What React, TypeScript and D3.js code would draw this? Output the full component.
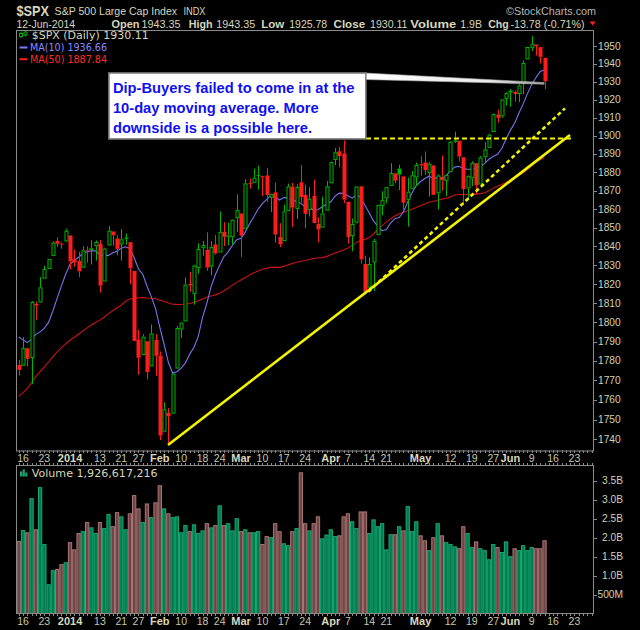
import React, { useEffect, useRef } from 'react'
import * as d3 from 'd3'

// trading days shown, 13-Dec-2013 .. 12-Jun-2014
const days = [
  '2013-12-13', '2013-12-16', '2013-12-17', '2013-12-18', '2013-12-19', '2013-12-20', '2013-12-23', '2013-12-24', '2013-12-26', '2013-12-27', '2013-12-30', '2013-12-31',
  '2014-01-02', '2014-01-03', '2014-01-06', '2014-01-07', '2014-01-08', '2014-01-09', '2014-01-10', '2014-01-13', '2014-01-14', '2014-01-15', '2014-01-16', '2014-01-17', '2014-01-21', '2014-01-22', '2014-01-23', '2014-01-24', '2014-01-27', '2014-01-28', '2014-01-29', '2014-01-30', '2014-01-31',
  '2014-02-03', '2014-02-04', '2014-02-05', '2014-02-06', '2014-02-07', '2014-02-10', '2014-02-11', '2014-02-12', '2014-02-13', '2014-02-14', '2014-02-18', '2014-02-19', '2014-02-20', '2014-02-21', '2014-02-24', '2014-02-25', '2014-02-26', '2014-02-27', '2014-02-28',
  '2014-03-03', '2014-03-04', '2014-03-05', '2014-03-06', '2014-03-07', '2014-03-10', '2014-03-11', '2014-03-12', '2014-03-13', '2014-03-14', '2014-03-17', '2014-03-18', '2014-03-19', '2014-03-20', '2014-03-21', '2014-03-24', '2014-03-25', '2014-03-26', '2014-03-27', '2014-03-28', '2014-03-31',
  '2014-04-01', '2014-04-02', '2014-04-03', '2014-04-04', '2014-04-07', '2014-04-08', '2014-04-09', '2014-04-10', '2014-04-11', '2014-04-14', '2014-04-15', '2014-04-16', '2014-04-17', '2014-04-21', '2014-04-22', '2014-04-23', '2014-04-24', '2014-04-25', '2014-04-28', '2014-04-29', '2014-04-30',
  '2014-05-01', '2014-05-02', '2014-05-05', '2014-05-06', '2014-05-07', '2014-05-08', '2014-05-09', '2014-05-12', '2014-05-13', '2014-05-14', '2014-05-15', '2014-05-16', '2014-05-19', '2014-05-20', '2014-05-21', '2014-05-22', '2014-05-23', '2014-05-27', '2014-05-28', '2014-05-29', '2014-05-30',
  '2014-06-02', '2014-06-03', '2014-06-04', '2014-06-05', '2014-06-06', '2014-06-09', '2014-06-10', '2014-06-11', '2014-06-12'
]
// empty space on the right of the chart
const futureDays = ['2014-06-13', '2014-06-16', '2014-06-17', '2014-06-18', '2014-06-19', '2014-06-20', '2014-06-23', '2014-06-24', '2014-06-25', '2014-06-26', '2014-06-27']

const opens = [
  1777.98, 1777.48, 1786.54, 1781.46, 1809.00, 1810.39, 1822.92, 1828.02, 1834.96, 1842.97, 1841.47, 1842.61,
  1845.86, 1833.21, 1832.31, 1828.71, 1837.90, 1839.00, 1840.06, 1841.26, 1821.36, 1840.52, 1847.99, 1844.23, 1841.05, 1844.71, 1842.29, 1826.96, 1791.03, 1783.00, 1790.15, 1777.17, 1790.88,
  1782.68, 1743.82, 1753.38, 1752.99, 1776.01, 1796.20, 1800.45, 1820.12, 1814.82, 1828.46, 1839.03, 1838.22, 1829.24, 1841.07, 1836.78, 1847.66, 1845.79, 1844.90, 1855.12,
  1857.68, 1849.23, 1874.05, 1874.18, 1878.52, 1877.86, 1878.26, 1866.15, 1869.06, 1845.07, 1842.81, 1858.92, 1872.25, 1860.09, 1874.53, 1867.67, 1859.48, 1867.09, 1852.11, 1850.07, 1859.16,
  1873.96, 1886.61, 1891.43, 1890.25, 1863.92, 1845.48, 1852.64, 1872.28, 1830.65, 1818.18, 1831.45, 1846.01, 1861.73, 1865.79, 1872.57, 1879.32, 1881.97, 1877.72, 1865.00, 1870.78, 1877.10,
  1884.39, 1885.30, 1879.45, 1883.69, 1868.53, 1877.39, 1875.27, 1880.03, 1896.75, 1897.13, 1888.16, 1871.19, 1876.66, 1884.88, 1873.34, 1888.19, 1893.32, 1902.01, 1911.77, 1910.60, 1920.33,
  1923.87, 1923.07, 1923.06, 1928.52, 1942.41, 1948.97, 1950.34, 1949.37, 1943.35
]
const highs = [
  1780.59, 1792.22, 1786.77, 1811.08, 1810.88, 1823.75, 1829.75, 1833.32, 1842.84, 1844.89, 1842.47, 1849.44,
  1845.86, 1838.24, 1837.16, 1840.10, 1840.02, 1843.23, 1843.15, 1843.45, 1839.26, 1850.84, 1847.99, 1846.04, 1849.31, 1846.87, 1842.29, 1826.96, 1795.98, 1793.87, 1790.15, 1798.77, 1793.88,
  1784.83, 1758.73, 1755.79, 1774.06, 1798.03, 1799.94, 1823.54, 1826.55, 1830.25, 1841.65, 1842.87, 1847.50, 1842.79, 1846.13, 1858.71, 1852.91, 1852.65, 1854.53, 1867.92,
  1857.68, 1876.23, 1876.53, 1881.94, 1883.57, 1877.87, 1882.35, 1868.38, 1874.40, 1852.44, 1862.30, 1873.76, 1874.14, 1873.49, 1883.97, 1873.34, 1871.87, 1875.92, 1855.55, 1866.63, 1875.18,
  1885.84, 1893.17, 1893.80, 1897.28, 1864.04, 1854.95, 1872.43, 1872.53, 1835.07, 1834.19, 1844.02, 1862.31, 1869.63, 1871.89, 1884.89, 1879.75, 1884.06, 1877.72, 1877.01, 1880.60, 1885.20,
  1888.59, 1891.33, 1885.51, 1883.69, 1878.83, 1889.07, 1878.57, 1897.13, 1902.17, 1897.13, 1888.16, 1878.28, 1886.00, 1884.88, 1888.80, 1896.33, 1901.26, 1912.28, 1914.46, 1920.03, 1924.03,
  1925.88, 1925.07, 1928.63, 1941.74, 1949.44, 1955.55, 1950.86, 1949.37, 1943.35
]
const lows = [
  1772.45, 1777.48, 1777.05, 1767.99, 1801.35, 1810.25, 1822.92, 1828.02, 1834.96, 1839.81, 1838.77, 1842.41,
  1827.74, 1829.13, 1823.73, 1828.71, 1831.40, 1830.38, 1832.43, 1815.52, 1821.36, 1840.52, 1840.30, 1835.23, 1832.38, 1840.88, 1820.06, 1790.29, 1772.88, 1783.00, 1770.45, 1777.17, 1772.26,
  1739.66, 1743.82, 1737.92, 1752.99, 1776.01, 1791.83, 1800.41, 1815.97, 1809.22, 1825.59, 1835.01, 1826.99, 1824.58, 1835.60, 1836.78, 1840.19, 1840.66, 1841.13, 1847.67,
  1834.44, 1849.23, 1871.11, 1874.18, 1870.56, 1867.04, 1863.88, 1858.39, 1841.86, 1839.57, 1842.81, 1858.92, 1850.35, 1854.63, 1863.46, 1849.69, 1855.96, 1852.56, 1842.11, 1850.07, 1859.16,
  1873.96, 1883.79, 1882.65, 1863.26, 1841.48, 1837.49, 1852.38, 1830.87, 1814.36, 1815.80, 1816.29, 1846.01, 1856.72, 1863.18, 1872.57, 1873.91, 1870.24, 1859.70, 1850.61, 1870.78, 1872.69,
  1878.04, 1878.50, 1866.77, 1867.72, 1859.79, 1870.05, 1867.02, 1880.03, 1896.06, 1885.77, 1862.36, 1864.82, 1872.42, 1868.14, 1873.34, 1885.39, 1893.32, 1902.01, 1907.30, 1909.82, 1916.64,
  1915.98, 1918.79, 1918.60, 1922.93, 1942.41, 1947.16, 1944.64, 1940.08, 1925.78
]
const closes = [
  1775.32, 1786.54, 1781.00, 1810.65, 1809.60, 1818.32, 1827.99, 1833.32, 1842.02, 1841.40, 1841.07, 1848.36,
  1831.98, 1831.37, 1826.77, 1837.88, 1837.49, 1838.13, 1842.37, 1819.20, 1838.88, 1848.38, 1845.89, 1838.70, 1843.80, 1844.86, 1828.46, 1790.29, 1781.56, 1792.50, 1774.20, 1794.19, 1782.59,
  1741.89, 1755.20, 1751.64, 1773.43, 1797.02, 1799.84, 1819.75, 1819.26, 1829.83, 1838.63, 1840.76, 1828.75, 1839.78, 1836.25, 1847.61, 1845.12, 1845.16, 1854.29, 1859.45,
  1845.73, 1873.91, 1873.81, 1877.03, 1878.04, 1877.17, 1867.63, 1868.20, 1846.34, 1841.13, 1858.83, 1872.25, 1860.77, 1872.01, 1866.52, 1857.44, 1865.62, 1852.56, 1849.04, 1857.62, 1872.34,
  1885.52, 1890.90, 1888.77, 1865.09, 1845.04, 1851.96, 1872.18, 1833.08, 1815.69, 1830.61, 1842.98, 1862.31, 1864.85, 1871.89, 1879.55, 1875.39, 1878.61, 1863.40, 1869.43, 1878.33, 1883.95,
  1883.68, 1881.14, 1884.66, 1867.72, 1878.21, 1875.63, 1878.48, 1896.65, 1897.45, 1888.53, 1870.85, 1877.86, 1885.08, 1872.83, 1888.03, 1892.49, 1900.53, 1911.91, 1909.78, 1920.03, 1923.57,
  1924.97, 1924.24, 1927.88, 1940.46, 1949.44, 1951.27, 1950.79, 1943.89, 1930.11
]
// volume, billions of shares
const volumes = [
  1.91, 2.20, 2.14, 3.04, 2.22, 3.33, 1.83, 0.77, 1.14, 1.17, 1.30, 1.35,
  1.88, 1.69, 2.12, 2.17, 2.41, 2.27, 2.12, 2.41, 2.25, 2.62, 2.30, 2.67, 2.56, 2.22, 2.64, 3.12, 2.77, 2.41, 2.90, 2.54, 2.93,
  3.38, 2.77, 2.64, 2.54, 2.56, 2.14, 2.33, 2.17, 2.35, 2.12, 2.19, 2.38, 2.27, 2.33, 2.85, 2.33, 2.38, 2.19, 2.51,
  2.17, 2.22, 2.14, 2.14, 2.17, 1.83, 2.04, 2.01, 2.38, 2.17, 1.85, 1.80, 2.17, 2.25, 3.72, 2.38, 2.19, 2.38, 2.56, 1.98, 2.08,
  2.22, 2.04, 2.06, 2.56, 2.64, 2.43, 2.25, 2.69, 2.69, 2.12, 2.48, 2.30, 2.38, 1.69, 2.09, 2.09, 2.30, 2.19, 2.83, 2.17, 2.43,
  2.06, 1.93, 1.67, 2.01, 2.38, 2.06, 1.88, 1.83, 1.77, 1.72, 2.30, 2.12, 1.75, 1.90, 1.72, 1.67, 1.43, 1.83, 1.75, 1.62, 1.90,
  1.51, 1.72, 1.67, 1.80, 1.67, 1.75, 1.72, 1.72, 1.93
]
// closes 4-Oct-2013 .. 12-Dec-2013, needed to start the moving averages
const priorCloses = [
  1690.50, 1676.12, 1655.45, 1656.40, 1692.56, 1703.20, 1710.14, 1698.06, 1721.54, 1733.15, 1744.50, 1744.66, 1754.67, 1746.38, 1752.07, 1759.77, 1762.11, 1771.95, 1763.31, 1756.54,
  1761.64, 1767.93, 1762.97, 1770.49, 1747.15, 1770.61, 1771.89, 1767.69, 1782.00, 1790.62, 1798.18, 1791.53, 1787.87, 1781.37, 1795.85, 1804.76, 1802.48, 1802.75, 1807.23, 1805.81,
  1800.90, 1795.15, 1792.81, 1785.03, 1805.09, 1808.37, 1802.62, 1782.22, 1775.50
]

const priceTicks = [1740, 1750, 1760, 1770, 1780, 1790, 1800, 1810, 1820, 1830, 1840, 1850, 1860, 1870, 1880, 1890, 1900, 1910, 1920, 1930, 1940, 1950]
const volumeTicks = [0.5, 1, 1.5, 2, 2.5, 3, 3.5]
const volumeTickLabels = ['500M', '1.0B', '1.5B', '2.0B', '2.5B', '3.0B', '3.5B']
const dateTicks = ['2013-12-16', '2013-12-23', '2014-01-02', '2014-01-13', '2014-01-21', '2014-01-27', '2014-02-03', '2014-02-10', '2014-02-18', '2014-02-24', '2014-03-03', '2014-03-10', '2014-03-17', '2014-03-24', '2014-04-01', '2014-04-07', '2014-04-14', '2014-04-21', '2014-05-01', '2014-05-12', '2014-05-19', '2014-05-27', '2014-06-02', '2014-06-09', '2014-06-16', '2014-06-23']
const dateTickLabels = ['16', '23', '2014', '13', '21', '27', 'Feb', '10', '18', '24', 'Mar', '10', '17', '24', 'Apr', '7', '14', '21', 'May', '12', '19', '27', 'Jun', '9', '16', '23']
const boldTickLabels = ['2014', 'Feb', 'Mar', 'Apr', 'May', 'Jun']

// drawn annotations, in (trading day index, price)
const trendSolid = [[34.92, 1737.1], [128.95, 1900.4]]
const trendDashed = [[81.77, 1816.0], [127.78, 1915.1]]
const resistance = [[81.23, 1898.5], [129.4, 1898.5]]
const calloutBox = [[21.1, 1934.8], [81.2, 1898.2]]
const calloutTip = [122.9, 1929.0]
const calloutText = ['Dip-Buyers failed to come in at the', '10-day moving average. More', 'downside is a possible here.']

// header line: text, x, width, bold
const header = [
  ['12-Jun-2014', 16.4, 58.7, false],
  ['Open', 111.6, 27.9, true], ['1943.35', 141.5, 39, false],
  ['High', 188.7, 23.8, true], ['1943.35', 216.2, 39, false],
  ['Low', 261.3, 23, true], ['1925.78', 289.2, 38, false],
  ['Close', 333.5, 31.6, true], ['1930.11', 370, 37.5, false],
  ['Volume', 410.3, 45.9, true], ['1.9B', 460.3, 21.7, false],
  ['Chg', 488.2, 20.5, true], ['-13.78 (-0.71%)', 510.4, 74.2, false]
]

const GREEN = '#00b400'
const RED = '#ff1c1c'
const KHAKI = '#d6d6ba'
const FONT = 'Liberation Sans, Arial, sans-serif'
const LFONT = 'DejaVu Sans, Verdana, sans-serif'

export default function App() {
  const ref = useRef<SVGSVGElement>(null)

  useEffect(() => {
    const svg = d3.select(ref.current)
    svg.selectAll('*').remove()

    const allDays = days.concat(futureDays)
    const L = 16, R = 594
    const pTop = 30, pBot = 450.5, vTop = 465.5, vBot = 613.5

    const x = d3.scaleLinear().domain([-0.64, allDays.length - 0.43]).range([L, R])
    const y = d3.scaleLog().domain([1734.36, 1959.06]).range([pBot, pTop])
    const yv = d3.scaleLinear().domain([0, 3.9]).range([vBot, vTop])

    svg.append('rect').attr('width', 640).attr('height', 630).attr('fill', '#000')

    const defs = svg.append('defs')
    defs.append('clipPath').attr('id', 'clipP')
      .append('rect').attr('x', L).attr('y', pTop).attr('width', R - L).attr('height', pBot - pTop)
    const grad = defs.append('linearGradient').attr('id', 'wedge').attr('x1', 0).attr('x2', 1).attr('y1', 0).attr('y2', 0)
    grad.append('stop').attr('offset', '0%').attr('stop-color', '#ffffff')
    grad.append('stop').attr('offset', '70%').attr('stop-color', '#e8e8e8')
    grad.append('stop').attr('offset', '100%').attr('stop-color', '#9a9a9a')

    // 移动平均线
    const all = priorCloses.concat(closes)
    const off = priorCloses.length
    const ma = (n: number) => closes.map((_, i) => d3.mean(all.slice(i + off - n + 1, i + off + 1)) as number)
    const ma10 = ma(10)
    const ma50 = ma(50)
    const line = d3.line<number>().x((d, i) => x(i)).y(d => y(d))

    const plot = svg.append('g').attr('clip-path', 'url(#clipP)')
    plot.append('path').attr('d', line(ma50)).attr('fill', 'none').attr('stroke', '#c81414').attr('stroke-width', 1.1)
    plot.append('path').attr('d', line(ma10)).attr('fill', 'none').attr('stroke', '#7474ee').attr('stroke-width', 1.1)

    // K线
    days.forEach((d, i) => {
      const o = opens[i], c = closes[i], h = highs[i], l = lows[i]
      const prev = i === 0 ? priorCloses[priorCloses.length - 1] : closes[i - 1]
      const col = c >= prev ? GREEN : RED
      const cx = Math.round(x(i)) + 0.5
      const top = y(Math.max(o, c)), bot = y(Math.min(o, c))
      const hb = Math.max(1, bot - top)
      plot.append('line').attr('x1', cx).attr('x2', cx).attr('y1', y(h)).attr('y2', top).attr('stroke', col)
      plot.append('line').attr('x1', cx).attr('x2', cx).attr('y1', top + hb).attr('y2', y(l)).attr('stroke', col)
      if (c < o) {
        plot.append('rect').attr('x', cx - 2).attr('y', top).attr('width', 4).attr('height', hb).attr('fill', col)
      } else {
        plot.append('rect').attr('x', cx - 1.5).attr('y', top + 0.5).attr('width', 3).attr('height', Math.max(0.5, hb - 1))
          .attr('fill', '#000').attr('stroke', col).attr('stroke-width', 1)
      }
    })

    // 成交量
    const up = (i: number) => closes[i] >= (i === 0 ? priorCloses[priorCloses.length - 1] : closes[i - 1])
    svg.append('g').selectAll('rect').data(volumes).enter().append('rect')
      .attr('x', (d, i) => x(i) - 1.65)
      .attr('y', d => yv(d) + 0.5)
      .attr('width', 3.3)
      .attr('height', d => vBot - yv(d) - 0.5)
      .attr('fill', (d, i) => (up(i) ? '#007c4e' : '#704545'))
      .attr('stroke', (d, i) => (up(i) ? '#17a874' : '#a87474'))
      .attr('stroke-width', 1)

    // 边框
    svg.append('rect').attr('x', L + 0.5).attr('y', pTop + 0.5).attr('width', R - L - 1).attr('height', pBot - pTop)
      .attr('fill', 'none').attr('stroke', '#8a8a8a')
    svg.append('rect').attr('x', L + 0.5).attr('y', vTop).attr('width', R - L - 1).attr('height', vBot - vTop)
      .attr('fill', 'none').attr('stroke', '#8a8a8a')

    // 日期刻度
    allDays.forEach((d, i) => {
      const cx = Math.round(x(i)) + 0.5
      ;[[pBot, pBot + 2.5], [vTop - 2.5, vTop], [vBot, vBot + 2.5]].forEach(([a, b]) => {
        svg.append('line').attr('x1', cx).attr('x2', cx).attr('y1', a).attr('y2', b).attr('stroke', '#8a8a8a')
      })
    })
    dateTicks.forEach((d, k) => {
      const i = allDays.indexOf(d)
      const bold = boldTickLabels.includes(dateTickLabels[k])
      ;[461.5, 625].forEach(by => {
        svg.append('text').attr('x', x(i)).attr('y', by).attr('text-anchor', 'middle')
          .attr('font-family', FONT).attr('font-size', bold ? 11 : 10.5).attr('font-weight', bold ? 'bold' : 'normal')
          .attr('fill', bold ? '#d8d8bc' : '#c8c8ac').text(dateTickLabels[k])
      })
    })

    // 价格轴
    priceTicks.forEach(p => {
      svg.append('line').attr('x1', R).attr('x2', R + 3).attr('y1', Math.round(y(p)) + 0.5).attr('y2', Math.round(y(p)) + 0.5).attr('stroke', '#8a8a8a')
      svg.append('text').attr('x', R + 4).attr('y', y(p) + 3.6).attr('font-family', FONT).attr('font-size', 10.2)
        .attr('fill', '#d0d0b6').text(p)
    })
    volumeTicks.forEach((v, k) => {
      svg.append('line').attr('x1', R).attr('x2', R + 3).attr('y1', Math.round(yv(v)) + 0.5).attr('y2', Math.round(yv(v)) + 0.5).attr('stroke', '#8a8a8a')
      svg.append('text').attr('x', 623).attr('y', yv(v) + 3.6).attr('text-anchor', 'end').attr('font-family', FONT).attr('font-size', 10.2)
        .attr('fill', '#d0d0b6').text(volumeTickLabels[k])
    })

    // 趋势线
    const pt = (a: number[]) => [x(a[0]), y(a[1])]
    const seg = (a: number[][], dash: string | null, w: number) => {
      const [p0, p1] = [pt(a[0]), pt(a[1])]
      const s = svg.append('line').attr('x1', p0[0]).attr('y1', p0[1]).attr('x2', p1[0]).attr('y2', p1[1])
        .attr('stroke', '#f4f400').attr('stroke-width', w)
      if (dash) s.attr('stroke-dasharray', dash)
    }
    seg(trendSolid, null, 2.6)
    seg(trendDashed, '4,3', 2.6)
    seg(resistance, '5,3', 2)

    // 标注框
    const [b0, b1] = [pt(calloutBox[0]), pt(calloutBox[1])]
    const tip = pt(calloutTip)
    svg.append('polygon')
      .attr('points', [[b1[0] - 1, b0[1]], [tip[0], tip[1] - 0.8], [tip[0], tip[1] + 0.8], [b1[0] - 1, b0[1] + 6.5]].map(p => p.join(',')).join(' '))
      .attr('fill', 'url(#wedge)').attr('stroke', '#b0b0b0').attr('stroke-width', 0.6)
    svg.append('rect').attr('x', b0[0]).attr('y', b0[1]).attr('width', b1[0] - b0[0]).attr('height', b1[1] - b0[1])
      .attr('fill', '#fff').attr('stroke', '#808080').attr('stroke-width', 1.6)
    calloutText.forEach((t, k) => {
      svg.append('text').attr('x', b0[0] + 4).attr('y', b0[1] + 19.5 + k * 20)
        .attr('font-family', FONT).attr('font-weight', 'bold').attr('font-size', 14.7).attr('fill', '#1010f0').text(t)
    })

    // 图例
    const icon = svg.append('g')
    ;[[21, 33.5, 36.5, 31.5, 38], [25.5, 32, 35, 30.5, 36.5]].forEach(([cx, t, b, h, l]) => {
      icon.append('line').attr('x1', cx).attr('x2', cx).attr('y1', h).attr('y2', l).attr('stroke', GREEN)
      icon.append('rect').attr('x', cx - 1.5).attr('y', t).attr('width', 3).attr('height', b - t).attr('fill', '#000').attr('stroke', GREEN)
    })
    svg.append('text').attr('x', 31.7).attr('y', 38.5).attr('font-family', LFONT).attr('font-size', 10)
      .attr('textLength', 117).attr('lengthAdjust', 'spacingAndGlyphs').attr('fill', KHAKI).text('$SPX (Daily) 1930.11')
    svg.append('line').attr('x1', 19.5).attr('x2', 27.5).attr('y1', 47.5).attr('y2', 47.5).attr('stroke', '#7b7bff').attr('stroke-width', 2)
    svg.append('text').attr('x', 30).attr('y', 51.2).attr('font-family', LFONT).attr('font-size', 10)
      .attr('textLength', 77).attr('lengthAdjust', 'spacingAndGlyphs').attr('fill', '#8a8aff').text('MA(10) 1936.66')
    svg.append('line').attr('x1', 19.5).attr('x2', 27.5).attr('y1', 59.2).attr('y2', 59.2).attr('stroke', '#ff2020').attr('stroke-width', 2)
    svg.append('text').attr('x', 30).attr('y', 62.8).attr('font-family', LFONT).attr('font-size', 10)
      .attr('textLength', 77).attr('lengthAdjust', 'spacingAndGlyphs').attr('fill', '#ff2a2a').text('MA(50) 1887.84')

    ;[[20, 471.5], [22.6, 469.5], [25.2, 472.5]].forEach(([bx, by]) => {
      svg.append('rect').attr('x', bx).attr('y', by).attr('width', 2.2).attr('height', 476.5 - by).attr('fill', '#1aa870')
    })
    svg.append('text').attr('x', 31.7).attr('y', 476.6).attr('font-family', LFONT).attr('font-size', 10)
      .attr('textLength', 126).attr('lengthAdjust', 'spacingAndGlyphs').attr('fill', KHAKI).text('Volume 1,926,617,216')

    // 标题
    svg.append('text').attr('x', 16.4).attr('y', 15.5).attr('font-family', FONT).attr('font-weight', 'bold').attr('font-size', 14)
      .attr('textLength', 32.6).attr('lengthAdjust', 'spacingAndGlyphs').attr('fill', KHAKI).text('$SPX')
    svg.append('text').attr('x', 54.6).attr('y', 15).attr('font-family', FONT).attr('font-size', 11.2)
      .attr('textLength', 122.5).attr('lengthAdjust', 'spacingAndGlyphs').attr('fill', KHAKI).text('S&P 500 Large Cap Index')
    svg.append('text').attr('x', 183.5).attr('y', 15).attr('font-family', FONT).attr('font-size', 10.5)
      .attr('textLength', 22).attr('lengthAdjust', 'spacingAndGlyphs').attr('fill', KHAKI).text('INDX')
    svg.append('text').attr('x', 506).attr('y', 15).attr('font-family', FONT).attr('font-size', 11.5)
      .attr('textLength', 90).attr('lengthAdjust', 'spacingAndGlyphs').attr('fill', '#b4b4b4').text('©StockCharts.com')
    header.forEach(([t, hx, w, bold]) => {
      svg.append('text').attr('x', hx as number).attr('y', 28).attr('font-family', FONT)
        .attr('font-size', bold ? 11.5 : 10.8).attr('font-weight', bold ? 'bold' : 'normal')
        .attr('textLength', w as number).attr('lengthAdjust', 'spacingAndGlyphs')
        .attr('fill', KHAKI).text(t as string)
    })
    svg.append('polygon').attr('points', '589.5,21.5 595.7,21.5 592.6,25.5').attr('fill', '#ff2020')
  }, [])

  return (
    <svg ref={ref} width={640} height={630} style={{ position: 'absolute', left: 0, top: 0, display: 'block' }}></svg>
  )
}
